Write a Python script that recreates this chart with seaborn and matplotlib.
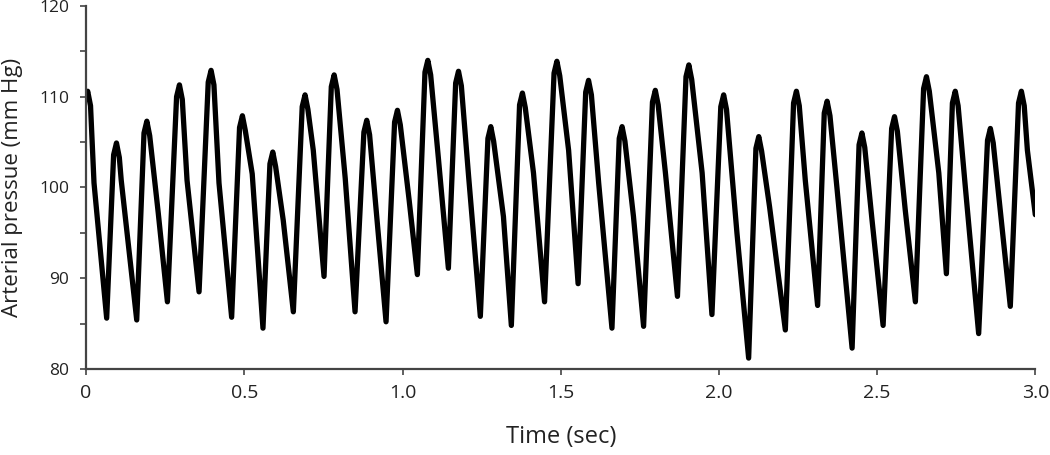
import matplotlib
matplotlib.use("Agg")
import matplotlib.pyplot as plt
import pandas as pd
import seaborn as sns

# beat landmarks (seconds, mm Hg)
# upstroke shoulder just below each systolic peak
rise_t = [0.000, 0.087, 0.183, 0.286, 0.386, 0.485, 0.581, 0.683, 0.775, 0.878,
          0.975, 1.071, 1.168, 1.270, 1.370, 1.479, 1.579, 1.685, 1.790, 1.896,
          2.006, 2.117, 2.236, 2.333, 2.443, 2.546, 2.647, 2.738, 2.849, 2.947]
rise_v = [109.8, 103.6, 106.0, 110.0, 111.6, 106.6, 102.6, 108.9, 111.1, 106.1,
          107.2, 112.7, 111.5, 105.4, 109.1, 112.6, 110.5, 105.4, 109.4, 112.2,
          108.9, 104.3, 109.3, 108.2, 104.7, 106.5, 110.9, 109.3, 105.2, 109.3]
# systolic peak
peak_t = [0.005, 0.096, 0.192, 0.295, 0.395, 0.494, 0.590, 0.692, 0.784, 0.887,
          0.984, 1.080, 1.177, 1.279, 1.379, 1.488, 1.588, 1.694, 1.799, 1.905,
          2.015, 2.126, 2.245, 2.342, 2.452, 2.555, 2.656, 2.747, 2.858, 2.956]
peak_v = [110.6, 104.9, 107.3, 111.3, 112.9, 107.9, 103.9, 110.2, 112.4, 107.4,
          108.5, 114.0, 112.8, 106.7, 110.4, 113.9, 111.8, 106.7, 110.7, 113.5,
          110.2, 105.6, 110.6, 109.5, 106.0, 107.8, 112.2, 110.6, 106.5, 110.6]
# downstroke shoulder just after the peak
fall_t = [0.014, 0.105, 0.201, 0.304, 0.404, 0.503, 0.599, 0.701, 0.793, 0.896,
          0.993, 1.089, 1.186, 1.288, 1.388, 1.497, 1.597, 1.703, 1.808, 1.914,
          2.024, 2.135, 2.254, 2.351, 2.461, 2.564, 2.665, 2.756, 2.867, 2.965]
fall_v = [109.0, 103.3, 105.7, 109.7, 111.3, 106.3, 102.3, 108.6, 110.8, 105.8,
          106.9, 112.4, 111.2, 105.1, 108.8, 112.3, 110.2, 105.1, 109.1, 111.9,
          108.6, 104.0, 109.0, 107.9, 104.4, 106.2, 110.6, 109.0, 104.9, 109.0]
# dicrotic notch
notch_t = [0.025, 0.111, 0.228, 0.319, 0.420, 0.525, 0.623, 0.718, 0.819, 0.914,
           1.021, 1.114, 1.209, 1.319, 1.414, 1.525, 1.620, 1.730, 1.831, 1.947,
           2.057, 2.160, 2.273, 2.373, 2.484, 2.589, 2.695, 2.779, 2.890, 2.975]
notch_v = [100.5, 100.8, 97.2, 100.8, 100.5, 101.5, 96.4, 104.1, 101.0, 98.6,
           98.6, 103.0, 101.2, 96.8, 101.6, 104.1, 100.5, 96.8, 101.6, 101.6,
           95.0, 97.9, 100.8, 100.0, 96.4, 97.5, 101.6, 100.0, 97.2, 104.1]
# diastolic trough (last entry is the end of the record)
trough_t = [0.065, 0.160, 0.257, 0.357, 0.460, 0.559, 0.655, 0.752, 0.850, 0.948,
            1.047, 1.145, 1.246, 1.344, 1.449, 1.555, 1.662, 1.762, 1.869, 1.978,
            2.094, 2.210, 2.312, 2.421, 2.519, 2.621, 2.719, 2.821, 2.921, 3.000]
trough_v = [85.6, 85.4, 87.4, 88.5, 85.7, 84.5, 86.3, 90.2, 86.3, 85.2,
            90.4, 91.1, 85.8, 84.8, 87.4, 89.4, 84.5, 84.7, 88.0, 86.0,
            81.2, 84.3, 87.0, 82.3, 84.8, 87.4, 90.5, 83.9, 86.9, 97.0]

x_ticks = [0, 0.5, 1.0, 1.5, 2.0, 2.5, 3.0]
x_labels = ["0", "0.5", "1.0", "1.5", "2.0", "2.5", "3.0"]
y_ticks = [80, 90, 100, 110, 120]
y_minor = [85, 95, 105, 115]

# interleave landmarks into one trace
t, v = [], []
for i in range(len(peak_t)):
    t += [rise_t[i], peak_t[i], fall_t[i], notch_t[i], trough_t[i]]
    v += [rise_v[i], peak_v[i], fall_v[i], notch_v[i], trough_v[i]]
df = pd.DataFrame({"time": t, "pressure": v})

sns.set_style("ticks")
plt.rcParams["font.family"] = ["Open Sans", "DejaVu Sans"]

fig, ax = plt.subplots(figsize=(10.5, 4.55), dpi=100)
fig.subplots_adjust(left=0.082, right=0.986, bottom=0.189, top=0.987)

sns.lineplot(data=df, x="time", y="pressure", sort=False, estimator=None,
             color="black", linewidth=3.8, ax=ax,
             solid_joinstyle="round", solid_capstyle="round")

ax.set_xlim(0, 3.0)
ax.set_ylim(80, 120)
ax.set_xticks(x_ticks)
ax.set_xticklabels(x_labels)
ax.set_yticks(y_ticks)
ax.set_yticks(y_minor, minor=True)

sns.despine(ax=ax)
for side in ["left", "bottom"]:
    ax.spines[side].set_color("#444444")
    ax.spines[side].set_linewidth(1.6)
ax.tick_params(which="both", length=4, width=1.2, color="#444444")
ax.tick_params(axis="x", labelsize=14, labelcolor="#222222", pad=7)
ax.tick_params(axis="y", labelsize=12.5, labelcolor="#222222", pad=8)

ax.set_xlabel("Time (sec)", fontsize=17, color="#222222", labelpad=16)
ax.set_ylabel("Arterial pressue (mm Hg)", fontsize=16, color="#222222", labelpad=12)

fig.savefig("out.png", dpi=100)
